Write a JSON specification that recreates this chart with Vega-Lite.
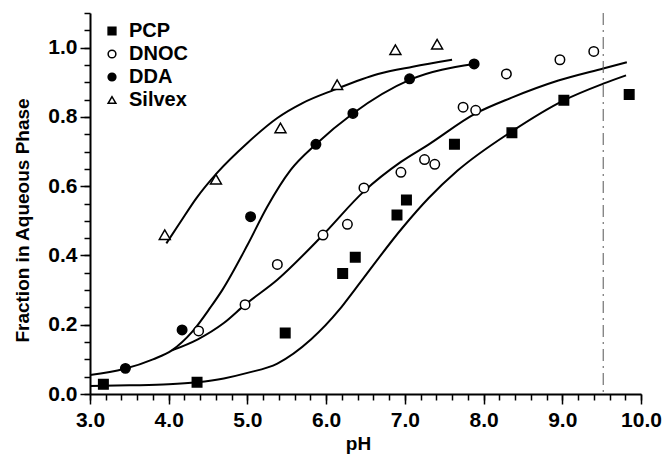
{
  "$schema": "https://vega.github.io/schema/vega-lite/v6.json",
  "width": 551,
  "height": 381,
  "autosize": "none",
  "padding": {"left": 90, "top": 13, "right": 21, "bottom": 60},
  "background": "white",
  "config": {
    "view": {"stroke": null},
    "font": "Liberation Sans",
    "axis": {"grid": false, "labelFont": "Liberation Sans", "titleFont": "Liberation Sans", "labelColor": "black", "titleColor": "black", "tickColor": "black", "domainColor": "black"},
    "legend": {"labelFont": "Liberation Sans"}
  },
  "datasets": {
    "points": [
      {"series": "PCP", "pH": 3.17, "frac": 0.028},
      {"series": "PCP", "pH": 4.36, "frac": 0.034},
      {"series": "PCP", "pH": 5.48, "frac": 0.176},
      {"series": "PCP", "pH": 6.21, "frac": 0.348},
      {"series": "PCP", "pH": 6.37, "frac": 0.395},
      {"series": "PCP", "pH": 6.90, "frac": 0.517},
      {"series": "PCP", "pH": 7.02, "frac": 0.56},
      {"series": "PCP", "pH": 7.63, "frac": 0.721},
      {"series": "PCP", "pH": 8.36, "frac": 0.754},
      {"series": "PCP", "pH": 9.02, "frac": 0.848},
      {"series": "PCP", "pH": 9.85, "frac": 0.865},
      {"series": "DNOC", "pH": 4.38, "frac": 0.182},
      {"series": "DNOC", "pH": 4.97, "frac": 0.258},
      {"series": "DNOC", "pH": 5.38, "frac": 0.374},
      {"series": "DNOC", "pH": 5.96, "frac": 0.459},
      {"series": "DNOC", "pH": 6.27, "frac": 0.49},
      {"series": "DNOC", "pH": 6.48, "frac": 0.595},
      {"series": "DNOC", "pH": 6.95, "frac": 0.64},
      {"series": "DNOC", "pH": 7.25, "frac": 0.677},
      {"series": "DNOC", "pH": 7.38, "frac": 0.663},
      {"series": "DNOC", "pH": 7.74, "frac": 0.828},
      {"series": "DNOC", "pH": 7.90, "frac": 0.819},
      {"series": "DNOC", "pH": 8.29, "frac": 0.924},
      {"series": "DNOC", "pH": 8.97, "frac": 0.965},
      {"series": "DNOC", "pH": 9.40, "frac": 0.989},
      {"series": "DDA", "pH": 3.45, "frac": 0.074},
      {"series": "DDA", "pH": 4.17, "frac": 0.185},
      {"series": "DDA", "pH": 5.04, "frac": 0.512},
      {"series": "DDA", "pH": 5.87, "frac": 0.721},
      {"series": "DDA", "pH": 6.34, "frac": 0.81},
      {"series": "DDA", "pH": 7.06, "frac": 0.91},
      {"series": "DDA", "pH": 7.88, "frac": 0.953},
      {"series": "Silvex", "pH": 3.95, "frac": 0.46},
      {"series": "Silvex", "pH": 4.60, "frac": 0.62},
      {"series": "Silvex", "pH": 5.42, "frac": 0.768},
      {"series": "Silvex", "pH": 6.14, "frac": 0.893},
      {"series": "Silvex", "pH": 6.88, "frac": 0.994},
      {"series": "Silvex", "pH": 7.41, "frac": 1.01}
    ],
    "curves": [
      {"series": "Silvex", "pH": 3.97, "frac": 0.435},
      {"series": "Silvex", "pH": 4.13, "frac": 0.49},
      {"series": "Silvex", "pH": 4.35, "frac": 0.565},
      {"series": "Silvex", "pH": 4.62, "frac": 0.64},
      {"series": "Silvex", "pH": 5.0, "frac": 0.725},
      {"series": "Silvex", "pH": 5.38, "frac": 0.797},
      {"series": "Silvex", "pH": 5.7, "frac": 0.84},
      {"series": "Silvex", "pH": 6.1, "frac": 0.878},
      {"series": "Silvex", "pH": 6.66, "frac": 0.924},
      {"series": "Silvex", "pH": 7.1, "frac": 0.945},
      {"series": "Silvex", "pH": 7.6, "frac": 0.965},
      {"series": "DDA", "pH": 3.0, "frac": 0.055},
      {"series": "DDA", "pH": 3.43, "frac": 0.072},
      {"series": "DDA", "pH": 3.8, "frac": 0.1},
      {"series": "DDA", "pH": 4.04, "frac": 0.126},
      {"series": "DDA", "pH": 4.3, "frac": 0.18},
      {"series": "DDA", "pH": 4.53, "frac": 0.25},
      {"series": "DDA", "pH": 4.68, "frac": 0.3},
      {"series": "DDA", "pH": 5.0, "frac": 0.43},
      {"series": "DDA", "pH": 5.25, "frac": 0.54},
      {"series": "DDA", "pH": 5.55, "frac": 0.647},
      {"series": "DDA", "pH": 5.87, "frac": 0.721},
      {"series": "DDA", "pH": 6.34, "frac": 0.81},
      {"series": "DDA", "pH": 7.06, "frac": 0.907},
      {"series": "DDA", "pH": 7.88, "frac": 0.953},
      {"series": "DNOC", "pH": 4.04, "frac": 0.126},
      {"series": "DNOC", "pH": 4.37, "frac": 0.158},
      {"series": "DNOC", "pH": 4.7, "frac": 0.205},
      {"series": "DNOC", "pH": 4.97, "frac": 0.258},
      {"series": "DNOC", "pH": 5.38, "frac": 0.33},
      {"series": "DNOC", "pH": 5.95, "frac": 0.457},
      {"series": "DNOC", "pH": 6.48, "frac": 0.585},
      {"series": "DNOC", "pH": 6.95, "frac": 0.67},
      {"series": "DNOC", "pH": 7.3, "frac": 0.72},
      {"series": "DNOC", "pH": 7.9, "frac": 0.81},
      {"series": "DNOC", "pH": 8.35, "frac": 0.855},
      {"series": "DNOC", "pH": 8.95, "frac": 0.905},
      {"series": "DNOC", "pH": 9.52, "frac": 0.94},
      {"series": "DNOC", "pH": 9.82, "frac": 0.958},
      {"series": "PCP", "pH": 3.0, "frac": 0.023},
      {"series": "PCP", "pH": 3.5, "frac": 0.025},
      {"series": "PCP", "pH": 4.0, "frac": 0.028},
      {"series": "PCP", "pH": 4.36, "frac": 0.034},
      {"series": "PCP", "pH": 4.7, "frac": 0.045},
      {"series": "PCP", "pH": 5.0, "frac": 0.061},
      {"series": "PCP", "pH": 5.38, "frac": 0.088},
      {"series": "PCP", "pH": 5.81, "frac": 0.158},
      {"series": "PCP", "pH": 6.17, "frac": 0.244},
      {"series": "PCP", "pH": 6.36, "frac": 0.3},
      {"series": "PCP", "pH": 6.97, "frac": 0.48},
      {"series": "PCP", "pH": 7.3, "frac": 0.565},
      {"series": "PCP", "pH": 7.67, "frac": 0.645},
      {"series": "PCP", "pH": 8.35, "frac": 0.757},
      {"series": "PCP", "pH": 9.02, "frac": 0.848},
      {"series": "PCP", "pH": 9.52, "frac": 0.896},
      {"series": "PCP", "pH": 9.81, "frac": 0.92}
    ],
    "vline": [{"pH": 9.52}]
  },
  "layer": [
    {
      "data": {"name": "curves"},
      "mark": {"type": "line", "stroke": "black", "strokeWidth": 2, "interpolate": "monotone"},
      "encoding": {
        "x": {"field": "pH", "type": "quantitative", "scale": {"domain": [3, 10], "nice": false, "zero": false},
          "axis": {"orient": "bottom", "values": [3.0,3.2,3.4,3.6,3.8,4.0,4.2,4.4,4.6,4.8,5.0,5.2,5.4,5.6,5.8,6.0,6.2,6.4,6.6,6.8,7.0,7.2,7.4,7.6,7.8,8.0,8.2,8.4,8.6,8.8,9.0,9.2,9.4,9.6,9.8,10.0], "labels": false, "domain": false, "tickSize": 6, "tickWidth": 1.5, "title": null}},
        "y": {"field": "frac", "type": "quantitative", "scale": {"domain": [0, 1.1], "nice": false, "zero": false},
          "axis": {"orient": "left", "values": [0,0.05,0.1,0.15,0.2,0.25,0.3,0.35,0.4,0.45,0.5,0.55,0.6,0.65,0.7,0.75,0.8,0.85,0.9,0.95,1.0,1.05,1.1], "labels": false, "domain": false, "tickSize": 6, "tickWidth": 1.5, "title": null}},
        "detail": {"field": "series"}
      }
    },
    {
      "data": {"name": "vline"},
      "mark": {"type": "rule", "stroke": "#555555", "strokeWidth": 1, "strokeDash": [12, 5, 2, 5]},
      "encoding": {"x": {"field": "pH", "type": "quantitative", "axis": null}}
    },
    {
      "data": {"name": "points"},
      "transform": [{"filter": "datum.series != 'Silvex'"}],
      "mark": {"type": "point", "stroke": "black", "strokeWidth": 1.5, "opacity": 1, "size": 90},
      "encoding": {
        "x": {"field": "pH", "type": "quantitative",
          "axis": {"orient": "bottom", "values": [3,4,5,6,7,8,9,10], "format": ".1f", "title": "pH", "tickSize": 10, "tickWidth": 1.5, "domainWidth": 2, "labelFontSize": 21, "labelFontWeight": "bold", "labelPadding": 5, "labelFlush": false, "labelOverlap": false, "titleFontSize": 19, "titleFontWeight": "bold", "titleBaseline": "top", "titleY": 40, "titleX": 268}},
        "y": {"field": "frac", "type": "quantitative",
          "axis": {"orient": "left", "values": [0,0.2,0.4,0.6,0.8,1.0], "format": ".1f", "title": "Fraction in Aqueous Phase", "tickSize": 10, "tickWidth": 1.5, "domainWidth": 2, "labelFontSize": 21, "labelFontWeight": "bold", "labelPadding": 3, "labelOverlap": false, "titleFontSize": 19, "titleFontWeight": "bold", "titleAngle": -90, "titleBaseline": "alphabetic", "titleX": -62, "titleY": 207}},
        "shape": {"field": "series", "type": "nominal",
          "scale": {"domain": ["PCP", "DNOC", "DDA", "Silvex"], "range": ["square", "circle", "circle", "triangle-up"]},
          "legend": {"title": null, "orient": "none", "legendX": 12, "legendY": 8, "padding": 0, "labelFontSize": 20, "labelFontWeight": "bold", "labelColor": "black", "symbolSize": 60, "rowPadding": 3, "labelOffset": 7,
            "encode": {"symbols": {"update": {"stroke": {"value": "black"}, "strokeWidth": {"value": 1.5}}}}}},
        "fill": {"field": "series", "type": "nominal",
          "scale": {"domain": ["PCP", "DNOC", "DDA", "Silvex"], "range": ["black", "white", "black", "white"]},
          "legend": {"title": null, "orient": "none", "legendX": 12, "legendY": 8, "padding": 0, "labelFontSize": 20, "labelFontWeight": "bold", "labelColor": "black", "symbolSize": 60, "rowPadding": 3, "labelOffset": 7,
            "encode": {"symbols": {"update": {"stroke": {"value": "black"}, "strokeWidth": {"value": 1.5}}}}}}
      }
    },
    {
      "data": {"name": "points"},
      "transform": [{"filter": "datum.series == 'Silvex'"}],
      "mark": {"type": "point", "stroke": "black", "strokeWidth": 1.5, "opacity": 1, "size": 120},
      "encoding": {
        "x": {"field": "pH", "type": "quantitative", "axis": null},
        "y": {"field": "frac", "type": "quantitative", "axis": null},
        "shape": {"field": "series", "type": "nominal",
          "scale": {"domain": ["PCP", "DNOC", "DDA", "Silvex"], "range": ["square", "circle", "circle", "triangle-up"]},
          "legend": {"title": null, "orient": "none", "legendX": 12, "legendY": 8, "padding": 0, "labelFontSize": 20, "labelFontWeight": "bold", "labelColor": "black", "symbolSize": 60, "rowPadding": 3, "labelOffset": 7,
            "encode": {"symbols": {"update": {"stroke": {"value": "black"}, "strokeWidth": {"value": 1.5}}}}}},
        "fill": {"field": "series", "type": "nominal",
          "scale": {"domain": ["PCP", "DNOC", "DDA", "Silvex"], "range": ["black", "white", "black", "white"]},
          "legend": {"title": null, "orient": "none", "legendX": 12, "legendY": 8, "padding": 0, "labelFontSize": 20, "labelFontWeight": "bold", "labelColor": "black", "symbolSize": 60, "rowPadding": 3, "labelOffset": 7,
            "encode": {"symbols": {"update": {"stroke": {"value": "black"}, "strokeWidth": {"value": 1.5}}}}}}
      }
    }
  ],
  "resolve": {"axis": {"x": "independent", "y": "independent"}}
}
